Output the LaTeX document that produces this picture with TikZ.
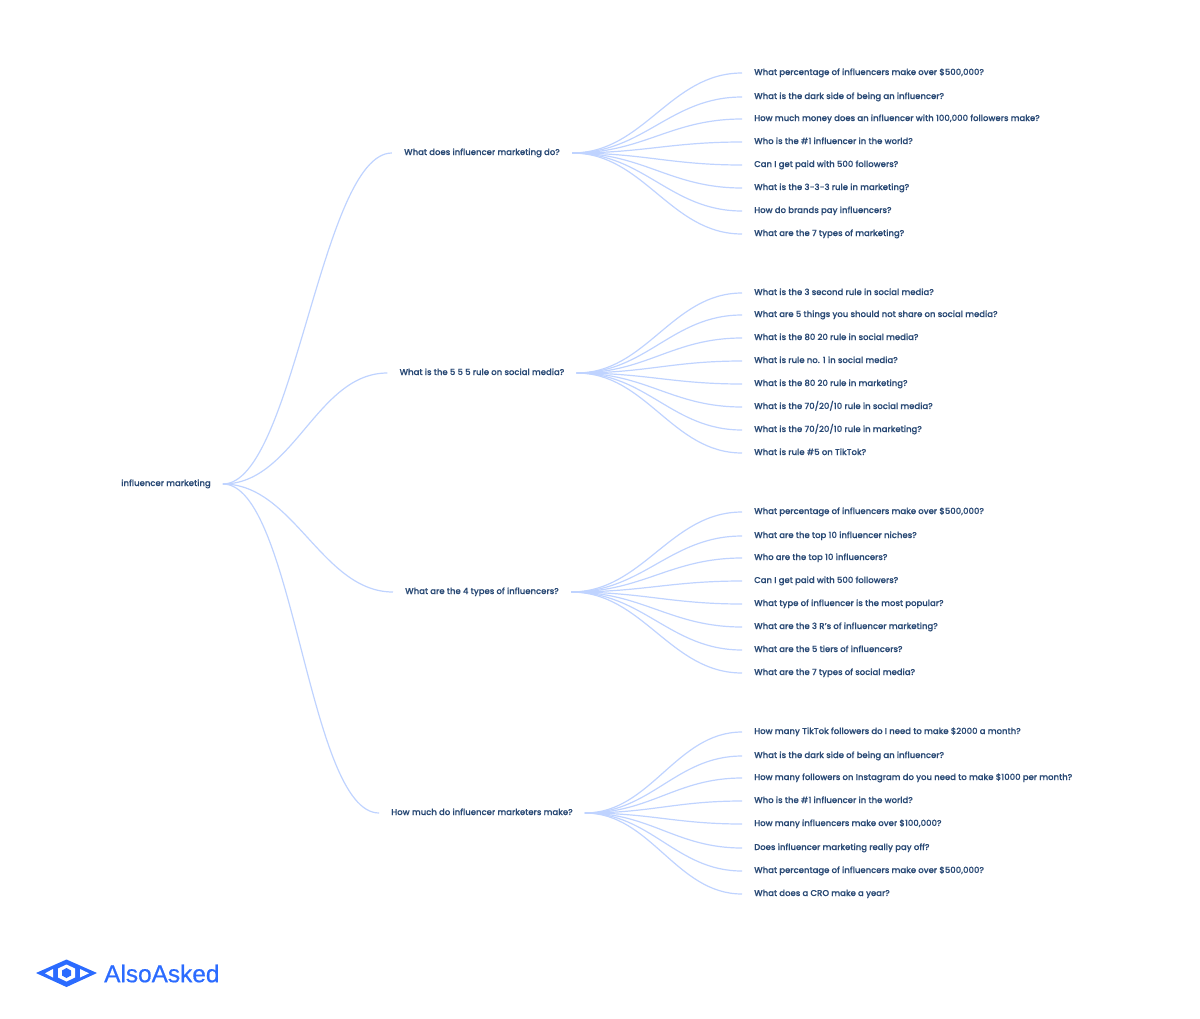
\documentclass[tikz,border=0pt]{standalone}
\usepackage{fontspec}
\setmainfont{Poppins}[UprightFont=* Medium, UprightFeatures={FakeBold=0.3}]
\newfontfamily\logofont{Liberation Sans}[FakeBold=0.6]
\definecolor{ink}{HTML}{2A4A75}
\definecolor{linkblue}{HTML}{BFD3FF}
\definecolor{logoblue}{HTML}{2B6BFF}
\begin{document}
\begin{tikzpicture}[x=1pt, y=-1pt,
  main/.style = {yshift=-1pt, inner xsep=12pt, inner ysep=1pt, text height=7pt, text depth=3pt, text=ink, font=\fontsize{8.5}{10}\selectfont},
  leaf/.style = {main, anchor=west},
  link/.style = {linkblue, line width=1.2pt}]
\useasboundingbox (0,0) rectangle (1200,1018);

\node[main] (root) at (166,483) {influencer marketing};

\node[main] (q1) at (482,152) {What does influencer marketing do?};
\node[main] (q2) at (482,372) {What is the 5 5 5 rule on social media?};
\node[main] (q3) at (482,591) {What are the 4 types of influencers?};
\node[main] (q4) at (482,812) {How much do influencer marketers make?};

\node[leaf] (a1) at (742,72) {What percentage of influencers make over \$500,000?};
\node[leaf] (a2) at (742,96) {What is the dark side of being an influencer?};
\node[leaf] (a3) at (742,118) {How much money does an influencer with 100,000 followers make?};
\node[leaf] (a4) at (742,141) {Who is the \#1 influencer in the world?};
\node[leaf] (a5) at (742,164) {Can I get paid with 500 followers?};
\node[leaf] (a6) at (742,187) {What is the 3-3-3 rule in marketing?};
\node[leaf] (a7) at (742,210) {How do brands pay influencers?};
\node[leaf] (a8) at (742,233) {What are the 7 types of marketing?};

\node[leaf] (b1) at (742,292) {What is the 3 second rule in social media?};
\node[leaf] (b2) at (742,314) {What are 5 things you should not share on social media?};
\node[leaf] (b3) at (742,337) {What is the 80 20 rule in social media?};
\node[leaf] (b4) at (742,360) {What is rule no. 1 in social media?};
\node[leaf] (b5) at (742,383) {What is the 80 20 rule in marketing?};
\node[leaf] (b6) at (742,406) {What is the 70/20/10 rule in social media?};
\node[leaf] (b7) at (742,429) {What is the 70/20/10 rule in marketing?};
\node[leaf] (b8) at (742,452) {What is rule \#5 on TikTok?};

\node[leaf] (c1) at (742,511) {What percentage of influencers make over \$500,000?};
\node[leaf] (c2) at (742,535) {What are the top 10 influencer niches?};
\node[leaf] (c3) at (742,557) {Who are the top 10 influencers?};
\node[leaf] (c4) at (742,580) {Can I get paid with 500 followers?};
\node[leaf] (c5) at (742,603) {What type of influencer is the most popular?};
\node[leaf] (c6) at (742,626) {What are the 3 R's of influencer marketing?};
\node[leaf] (c7) at (742,649) {What are the 5 tiers of influencers?};
\node[leaf] (c8) at (742,672) {What are the 7 types of social media?};

\node[leaf] (d1) at (742,731) {How many TikTok followers do I need to make \$2000 a month?};
\node[leaf] (d2) at (742,755) {What is the dark side of being an influencer?};
\node[leaf] (d3) at (742,777) {How many followers on Instagram do you need to make \$1000 per month?};
\node[leaf] (d4) at (742,800) {Who is the \#1 influencer in the world?};
\node[leaf] (d5) at (742,823) {How many influencers make over \$100,000?};
\node[leaf] (d6) at (742,847) {Does influencer marketing really pay off?};
\node[leaf] (d7) at (742,870) {What percentage of influencers make over \$500,000?};
\node[leaf] (d8) at (742,893) {What does a CRO make a year?};

\draw[link] (root.east) .. controls +(71,0) and +(-71,0) .. (q1.west);
\draw[link] (root.east) .. controls +(71,0) and +(-71,0) .. (q2.west);
\draw[link] (root.east) .. controls +(71,0) and +(-71,0) .. (q3.west);
\draw[link] (root.east) .. controls +(71,0) and +(-71,0) .. (q4.west);

\draw[link] (q1.east) .. controls +(72,0) and +(-72,0) .. (a1.west);
\draw[link] (q1.east) .. controls +(72,0) and +(-72,0) .. (a2.west);
\draw[link] (q1.east) .. controls +(72,0) and +(-72,0) .. (a3.west);
\draw[link] (q1.east) .. controls +(72,0) and +(-72,0) .. (a4.west);
\draw[link] (q1.east) .. controls +(72,0) and +(-72,0) .. (a5.west);
\draw[link] (q1.east) .. controls +(72,0) and +(-72,0) .. (a6.west);
\draw[link] (q1.east) .. controls +(72,0) and +(-72,0) .. (a7.west);
\draw[link] (q1.east) .. controls +(72,0) and +(-72,0) .. (a8.west);

\draw[link] (q2.east) .. controls +(70,0) and +(-70,0) .. (b1.west);
\draw[link] (q2.east) .. controls +(70,0) and +(-70,0) .. (b2.west);
\draw[link] (q2.east) .. controls +(70,0) and +(-70,0) .. (b3.west);
\draw[link] (q2.east) .. controls +(70,0) and +(-70,0) .. (b4.west);
\draw[link] (q2.east) .. controls +(70,0) and +(-70,0) .. (b5.west);
\draw[link] (q2.east) .. controls +(70,0) and +(-70,0) .. (b6.west);
\draw[link] (q2.east) .. controls +(70,0) and +(-70,0) .. (b7.west);
\draw[link] (q2.east) .. controls +(70,0) and +(-70,0) .. (b8.west);

\draw[link] (q3.east) .. controls +(72,0) and +(-72,0) .. (c1.west);
\draw[link] (q3.east) .. controls +(72,0) and +(-72,0) .. (c2.west);
\draw[link] (q3.east) .. controls +(72,0) and +(-72,0) .. (c3.west);
\draw[link] (q3.east) .. controls +(72,0) and +(-72,0) .. (c4.west);
\draw[link] (q3.east) .. controls +(72,0) and +(-72,0) .. (c5.west);
\draw[link] (q3.east) .. controls +(72,0) and +(-72,0) .. (c6.west);
\draw[link] (q3.east) .. controls +(72,0) and +(-72,0) .. (c7.west);
\draw[link] (q3.east) .. controls +(72,0) and +(-72,0) .. (c8.west);

\draw[link] (q4.east) .. controls +(66,0) and +(-66,0) .. (d1.west);
\draw[link] (q4.east) .. controls +(66,0) and +(-66,0) .. (d2.west);
\draw[link] (q4.east) .. controls +(66,0) and +(-66,0) .. (d3.west);
\draw[link] (q4.east) .. controls +(66,0) and +(-66,0) .. (d4.west);
\draw[link] (q4.east) .. controls +(66,0) and +(-66,0) .. (d5.west);
\draw[link] (q4.east) .. controls +(66,0) and +(-66,0) .. (d6.west);
\draw[link] (q4.east) .. controls +(66,0) and +(-66,0) .. (d7.west);
\draw[link] (q4.east) .. controls +(66,0) and +(-66,0) .. (d8.west);

% logo
\fill[logoblue] (36,973) -- (66.5,959.5) -- (97,973) -- (66.5,987) -- cycle;
\fill[white] (45,973.3) -- (53,969) -- (53,977.5) -- cycle;
\fill[white] (89,973.3) -- (80,969) -- (80,977.5) -- cycle;
\fill[white] (66.5,964.5) -- (75,968.5) -- (75,977.5) -- (66.5,981.5) -- (58,977.5) -- (58,968.5) -- cycle;
\fill[logoblue] (66.5,968) -- (71,970.5) -- (71,975.5) -- (66.5,978) -- (62,975.5) -- (62,970.5) -- cycle;
\node[anchor=west, inner sep=0pt, text=logoblue, font=\logofont\fontsize{24.4}{26}\selectfont] (logo) at (104,973.5) {AlsoAsked};
\end{tikzpicture}
\end{document}
